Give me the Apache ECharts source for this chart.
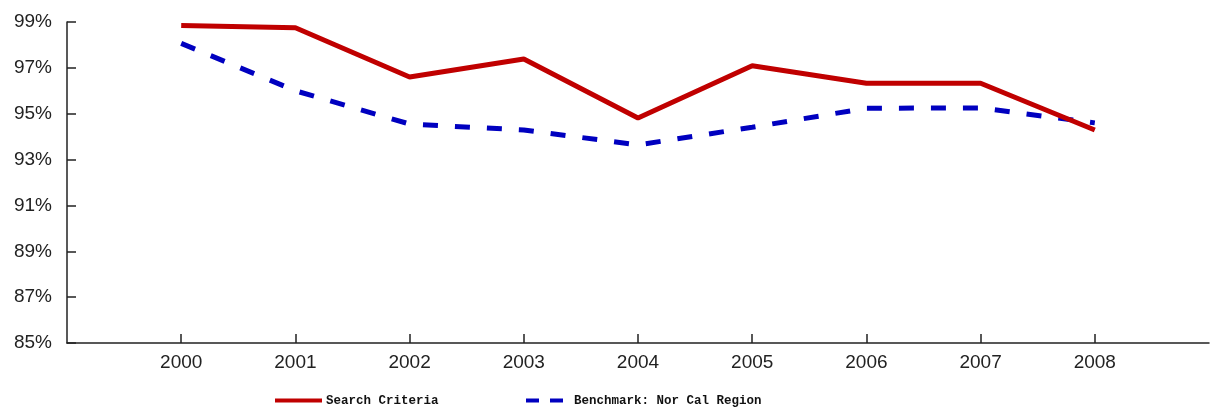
<!DOCTYPE html>
<html>
<head>
<meta charset="utf-8">
<script src="https://cdn.jsdelivr.net/npm/echarts@6/dist/echarts.min.js"></script>
<style>html,body{margin:0;padding:0;background:#fff}#c{width:1212px;height:408px}</style>
</head>
<body>
<div id="c"></div>
<script>
var years = ['2000','2001','2002','2003','2004','2005','2006','2007','2008'];
var searchCriteria = [98.85, 98.75, 96.6, 97.39, 94.81, 97.09, 96.33, 96.33, 94.29];
var benchmark = [98.07, 96.0, 94.55, 94.29, 93.64, 94.41, 95.24, 95.25, 94.6];
var yTicks = [85, 87, 89, 91, 93, 95, 97, 99];

// pad the category axis with one empty slot on each side
var cats = [''].concat(years, ['']);
function pad(arr){ return ['-'].concat(arr, ['-']); }

var legendText = {fontFamily: 'Liberation Mono', fontSize: 12.5, fontWeight: 'bold', color: '#111'};

var chart = echarts.init(document.getElementById('c'));
chart.setOption({
  animation: false,
  backgroundColor: '#fff',
  grid: {left: 67, right: 1, top: 22, bottom: 65},
  legend: [
    {
      left: 270, top: 389, itemWidth: 47, itemHeight: 12, itemGap: 0,
      textStyle: Object.assign({padding: [0,0,0,-1]}, legendText),
      data: [{name: 'Search Criteria', icon: 'path://M0,0 L47,0 L47,4 L0,4 Z', itemStyle: {color: '#c00000'}}]
    },
    {
      left: 521, top: 389, itemWidth: 37, itemHeight: 12, itemGap: 0,
      textStyle: Object.assign({padding: [0,0,0,6]}, legendText),
      data: [{name: 'Benchmark: Nor Cal Region', icon: 'path://M0,0 L13,0 L13,4 L0,4 Z M24,0 L37,0 L37,4 L24,4 Z', itemStyle: {color: '#0000c0'}}]
    }
  ],
  xAxis: {
    type: 'category', data: cats, boundaryGap: false,
    axisLine: {lineStyle: {color: '#222', width: 1.5}},
    axisTick: {inside: true, length: 9, lineStyle: {color: '#222', width: 1.5},
      interval: function(i, v){ return v !== ''; }},
    axisLabel: {interval: 0, margin: 10, fontFamily: 'Liberation Sans', fontSize: 19, color: '#222'},
    splitLine: {show: false}
  },
  yAxis: {
    type: 'value', min: yTicks[0], max: yTicks[yTicks.length-1], interval: 2,
    axisLine: {show: true, lineStyle: {color: '#222', width: 1.5}},
    axisTick: {show: true, inside: true, length: 9, lineStyle: {color: '#222', width: 1.5}},
    axisLabel: {margin: 15, fontFamily: 'Liberation Sans', fontSize: 19, color: '#222',
      formatter: function(v){ return v + '%'; }},
    splitLine: {show: false}
  },
  series: [
    {name: 'Search Criteria', type: 'line', data: pad(searchCriteria), symbol: 'none',
      lineStyle: {color: '#c00000', width: 5}, itemStyle: {color: '#c00000'}},
    {name: 'Benchmark: Nor Cal Region', type: 'line', data: pad(benchmark), symbol: 'none', z: 1,
      lineStyle: {color: '#0000c0', width: 5, type: [15, 17]}, itemStyle: {color: '#0000c0'}}
  ]
});
</script>
</body>
</html>
